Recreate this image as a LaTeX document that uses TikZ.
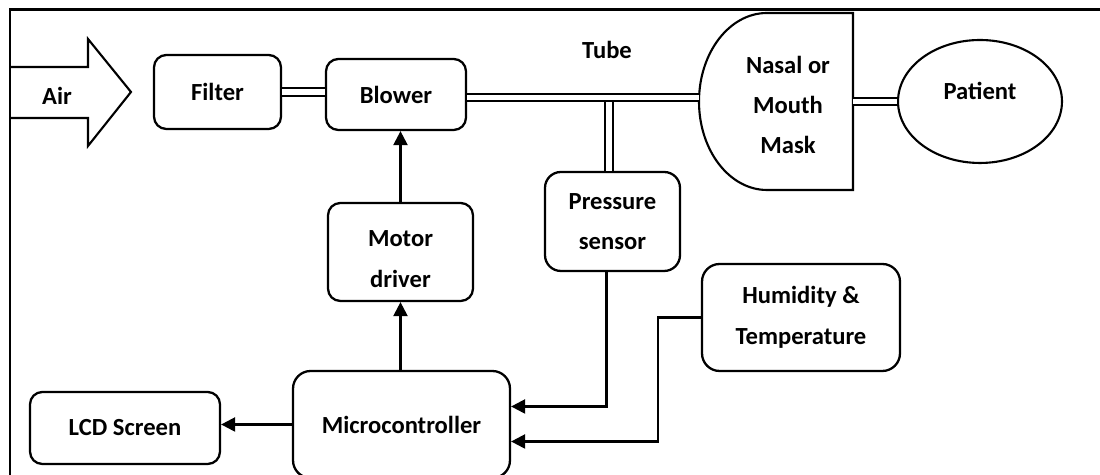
\documentclass[tikz,border=0pt]{standalone}
\usepackage{fontspec}
\setmainfont{Carlito}
\usetikzlibrary{calc}
\usetikzlibrary{arrows.meta, shapes.geometric}

\begin{document}
\begin{tikzpicture}[x=0.02cm,y=0.02cm,
  txt/.style={font=\fontsize{14}{23}\selectfont\bfseries},
  every node/.style={txt},
  box/.style={draw,line width=1.3pt,rounded corners=7pt,align=center,inner sep=0pt},
  pipe/.style={draw,double,line width=1.1pt,double distance=3pt},
  arr/.style={-{Triangle[length=8pt,width=8pt]},line width=1.3pt}]

\clip (0,0) rectangle (1100,475);
\draw[line width=1.7pt] (10,-10) -- (10,465) -- (1110,465);

% air inlet
\draw[line width=1.2pt] (10,408) -- (88,408) -- (88,436) -- (131,383)
      -- (88,329) -- (88,357) -- (10,357);
\node (air) at (57,379) {Air};

\node[box,minimum width=2.54cm,minimum height=1.48cm] (filter) at (217.5,383) {Filter};
\node[box,minimum width=2.8cm,minimum height=1.42cm] (blower) at (396,380.5) {Blower};
\node[box,minimum width=2.9cm,minimum height=1.96cm,
      label={[align=center,yshift=-4pt]center:Motor\\driver}] (motor) at (400.5,223) {};
\node[box,minimum width=2.7cm,minimum height=1.98cm,rounded corners=9pt] (pressure) at (612.5,253.5) {Pressure\\sensor};
\node[box,minimum width=3.96cm,minimum height=2.14cm,rounded corners=10pt] (humidity) at (801,157.5) {Humidity \&\\Temperature};
\node[box,minimum width=4.34cm,minimum height=2.14cm,rounded corners=10pt] (micro) at (401.5,50.5) {Microcontroller};
\node[box,minimum width=3.8cm,minimum height=1.44cm] (lcd) at (125,47) {LCD Screen};
\node[ellipse,draw,line width=1.2pt,minimum width=3.28cm,minimum height=2.46cm,
      label={[yshift=6pt]center:Patient}] (patient) at (980,373.5) {};

% mask
\draw[line width=1.2pt] (853,462) -- (767,462)
      arc[start angle=90,end angle=270,x radius=68,y radius=88.5] -- (853,285) -- cycle;
\node[align=center] (mask) at (788,370) {Nasal or\\Mouth\\Mask};
\coordinate (maskL) at (699,377.5);
\coordinate (maskR) at (853,373.5);

\node (tube) at (607,425) {Tube};

% tubes
\draw[pipe] (filter.east) -- (filter.east -| blower.west);
\draw[pipe] (blower.east |- maskL) -- (maskL);
\coordinate (tee) at (609,372.5);
\draw[pipe] (tee) -- (tee |- pressure.north);
\draw[pipe] (maskR) -- (patient.west);

% signals
\draw[arr] (motor.north) -- (motor.north |- blower.south);
\draw[arr] (micro.north -| motor.south) -- (motor.south);
\draw[arr] (micro.west) -- (micro.west -| lcd.east);
\draw[arr] ($(pressure.south)+(-6,0)$) |- ($(micro.east)+(0,18)$);
\draw[arr] (humidity.west) -- ++(-43,0) |- ($(micro.east)+(0,-17)$);
\end{tikzpicture}
\end{document}
